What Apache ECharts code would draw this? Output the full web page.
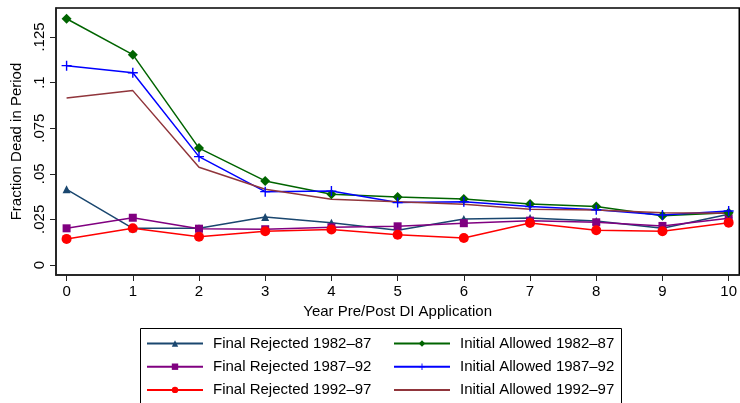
<!DOCTYPE html>
<html>
<head>
<meta charset="utf-8">
<script src="https://cdn.jsdelivr.net/npm/echarts@6/dist/echarts.min.js"></script>
<style>
  html, body { margin: 0; padding: 0; background: #fff; }
  #chart { width: 740px; height: 403px; }
</style>
</head>
<body>
<div id="chart"></div>
<script>
  const years = [0, 1, 2, 3, 4, 5, 6, 7, 8, 9, 10];
  const yTicks = [0, 0.025, 0.05, 0.075, 0.1, 0.125];

  const finalRej8287 = [0.0415, 0.0201, 0.0201, 0.0263, 0.0232, 0.019, 0.0252, 0.0258, 0.0241, 0.0201, 0.0278];
  const finalRej8792 = [0.0201, 0.0259, 0.0199, 0.0196, 0.0207, 0.0212, 0.0229, 0.0243, 0.0234, 0.0214, 0.0256];
  const finalRej9297 = [0.0143, 0.0201, 0.0155, 0.0185, 0.0194, 0.0166, 0.0148, 0.023, 0.019, 0.0185, 0.0232];
  const initAll8287 = [0.135, 0.1153, 0.0641, 0.0461, 0.0388, 0.0373, 0.0362, 0.0334, 0.032, 0.027, 0.0287];
  const initAll8792 = [0.1093, 0.1054, 0.0594, 0.0402, 0.0405, 0.0342, 0.0347, 0.032, 0.0303, 0.0274, 0.0296];
  const initAll9297 = [0.0916, 0.0956, 0.0536, 0.0415, 0.036, 0.0347, 0.0333, 0.0305, 0.0302, 0.0287, 0.0283];

  const font = 'Liberation Sans, Arial, sans-serif';
  const plusPath = 'path://M4.3,0h1.4v4.3h4.3v1.4h-4.3v4.3h-1.4v-4.3h-4.3v-1.4h4.3z';

  const pairs = (vals) => years.map((x, i) => [x, vals[i]]);

  const chart = echarts.init(document.getElementById('chart'));

  const mkSeries = (name, vals, color, symbol, size) => ({
    name,
    type: 'line',
    data: pairs(vals),
    symbol,
    symbolSize: size,
    showSymbol: symbol !== 'none',
    lineStyle: { color, width: 1.5 },
    itemStyle: { color },
    animation: false,
  });

  const legendBase = {
    orient: 'vertical',
    top: 336,
    height: 90,
    padding: 0,
    itemWidth: 56,
    itemHeight: 8,
    itemGap: 8.2,
    textStyle: { fontFamily: font, fontSize: 15, color: '#000', padding: [0, 0, 0, 5] },
  };

  chart.setOption({
    backgroundColor: '#fff',
    grid: {
      left: 56,
      top: 8,
      width: 686,
      height: 267,
      show: true,
      borderColor: '#000',
      borderWidth: 1.5,
    },
    legend: [
      Object.assign({}, legendBase, {
        left: 146,
        data: ['Final Rejected 1982–87', 'Final Rejected 1987–92', 'Final Rejected 1992–97'],
      }),
      Object.assign({}, legendBase, {
        left: 393,
        data: [
          'Initial Allowed 1982–87',
          'Initial Allowed 1987–92',
          { name: 'Initial Allowed 1992–97', itemStyle: { opacity: 0 } },
        ],
      }),
    ],
    graphic: [{
      type: 'rect',
      shape: { x: 140.5, y: 328.5, width: 481, height: 90 },
      style: { fill: 'none', stroke: '#000', lineWidth: 1 },
      silent: true,
    }],
    xAxis: {
      type: 'value',
      min: -0.16,
      max: 10.16,
      name: 'Year Pre/Post DI Application',
      nameLocation: 'middle',
      nameGap: 27,
      nameTextStyle: { fontFamily: font, fontSize: 15, color: '#000' },
      axisLine: { onZero: false, lineStyle: { color: '#222', width: 1.5 } },
      axisTick: { show: true, length: 6, lineStyle: { color: '#222' }, customValues: years },
      axisLabel: { fontFamily: font, fontSize: 15, color: '#000', margin: 9, customValues: years },
      splitLine: { show: false },
    },
    yAxis: {
      type: 'value',
      min: -0.0055,
      max: 0.1409,
      name: 'Fraction Dead in Period',
      nameLocation: 'middle',
      nameGap: 26,
      nameTextStyle: { fontFamily: font, fontSize: 15, color: '#000' },
      axisLine: { show: true, onZero: false, lineStyle: { color: '#222', width: 1.5 } },
      axisTick: { show: true, length: 6, lineStyle: { color: '#222' }, customValues: yTicks },
      axisLabel: {
        fontFamily: font,
        fontSize: 15,
        color: '#000',
        rotate: 90,
        margin: 9,
        customValues: yTicks,
        formatter: (v) => (v === 0 ? '0' : String(Number(v.toFixed(3))).replace(/^0/, '')),
      },
      splitLine: { show: false },
    },
    series: [
      mkSeries('Final Rejected 1982–87', finalRej8287, '#1a476f', 'triangle', 8),
      mkSeries('Final Rejected 1987–92', finalRej8792, '#800080', 'rect', 8),
      mkSeries('Final Rejected 1992–97', finalRej9297, '#ff0000', 'circle', 10),
      mkSeries('Initial Allowed 1982–87', initAll8287, '#006400', 'diamond', 10),
      mkSeries('Initial Allowed 1987–92', initAll8792, '#0000ff', plusPath, 10),
      mkSeries('Initial Allowed 1992–97', initAll9297, '#90353b', 'none', 0),
    ],
  });
</script>
</body>
</html>
